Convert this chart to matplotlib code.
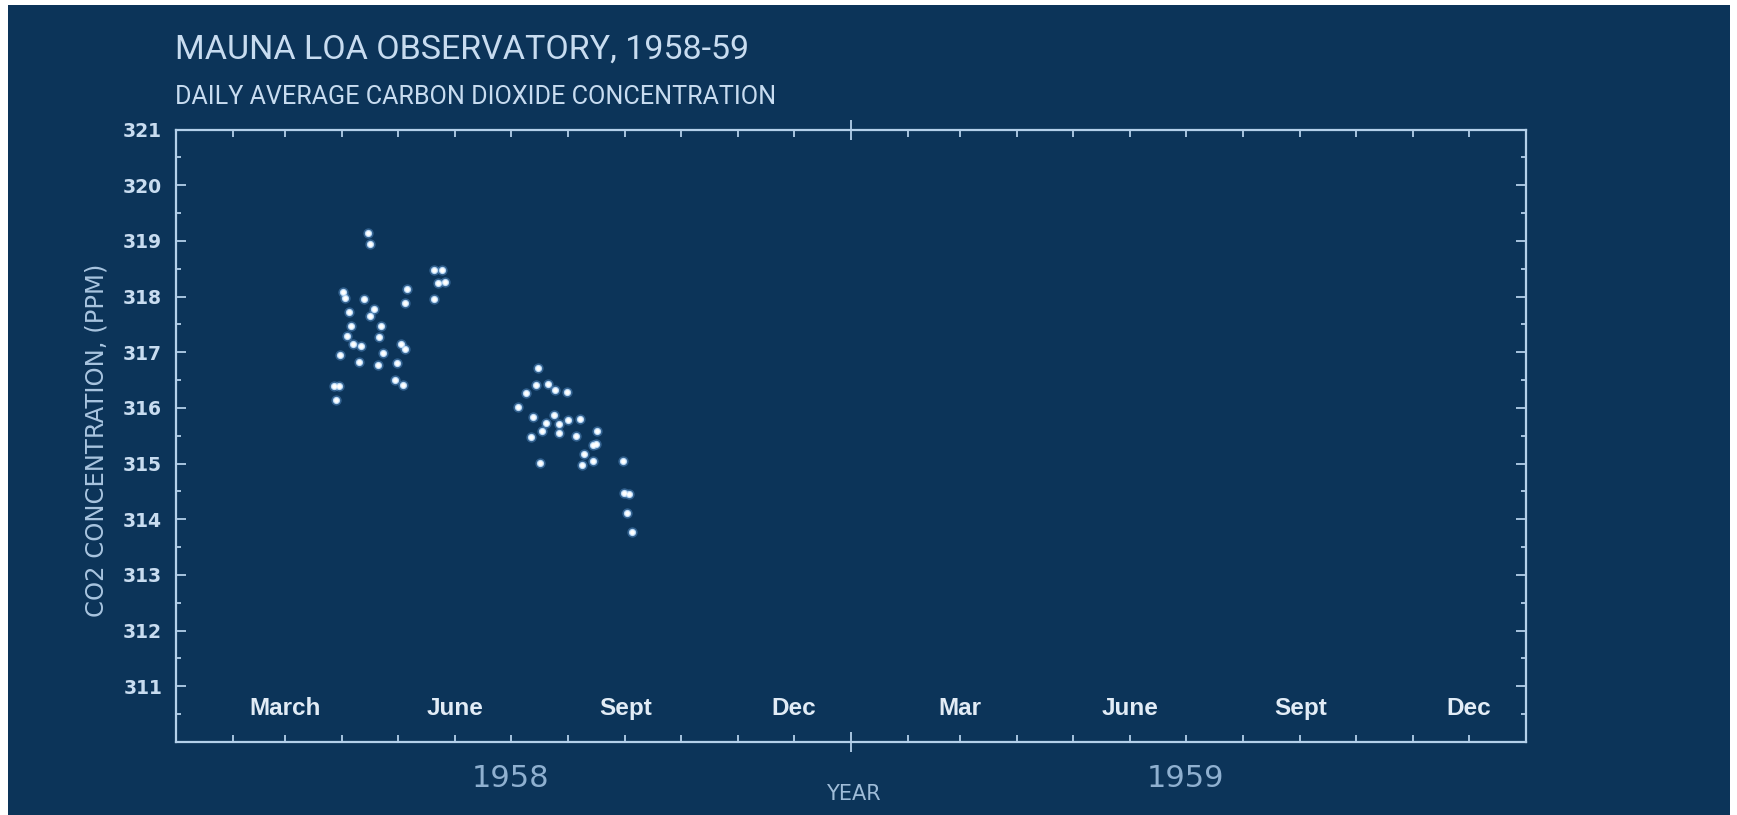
import numpy as np
import matplotlib
matplotlib.use("Agg")
import matplotlib.pyplot as plt
from matplotlib.patches import Rectangle
from matplotlib.transforms import blended_transform_factory

# ---------------- data (days since 1958-01-01, ppm) ----------------
DAYS = [104.0, 105.0, 139.7, 143.7, 141.6, 145.4, 139.3, 125.1, 124.0, 90.3,
        91.4, 101.8, 93.8, 105.0, 107.1, 94.7, 110.7, 92.6, 110.0, 95.8,
        100.3, 121.8, 123.6, 88.8, 112.1, 99.2, 119.5, 109.4, 118.6, 122.7,
        85.2, 87.9, 86.5,
        195.6, 194.7, 201.0, 205.1, 211.2, 189.3, 185.0, 193.1, 204.2, 218.6,
        200.1, 206.9, 211.7, 197.9, 207.1, 191.7, 216.4, 227.6, 225.7, 227.2,
        220.7, 225.7, 219.5, 197.0, 241.6, 242.3, 245.2, 243.7, 246.4]
CO2 = [319.14, 318.94, 318.48, 318.48, 318.25, 318.27, 317.95, 318.14, 317.89, 318.09,
       317.97, 317.95, 317.73, 317.66, 317.78, 317.47, 317.48, 317.30, 317.28, 317.15,
       317.11, 317.14, 317.06, 316.95, 316.98, 316.82, 316.81, 316.77, 316.51, 316.42,
       316.39, 316.40, 316.15,
       316.72, 316.42, 316.43, 316.33, 316.28, 316.26, 316.02, 315.84, 315.87, 315.81,
       315.73, 315.71, 315.79, 315.59, 315.55, 315.48, 315.50, 315.59, 315.33, 315.36,
       315.18, 315.05, 314.97, 315.01, 315.05, 314.48, 314.45, 314.12, 313.78]

MONTH_LABELS = ['March', 'June', 'Sept', 'Dec', 'Mar', 'June', 'Sept', 'Dec']
MONTH_LABEL_DATES = ['1958-03', '1958-06', '1958-09', '1958-12',
                     '1959-03', '1959-06', '1959-09', '1959-12']
YEAR_LABELS = ['1958', '1959']
YEAR_LABEL_DATES = ['1958-07', '1959-07']
Y_TICKS = list(range(311, 322))

TITLE = 'MAUNA LOA OBSERVATORY, 1958-59'
SUBTITLE = 'DAILY AVERAGE CARBON DIOXIDE CONCENTRATION'
YLABEL = 'CO2 CONCENTRATION, (PPM)'
XLABEL = 'YEAR'

# ---------------- style ----------------
BG = '#0c3459'
LINE = '#b4d0ea'
TXT = '#c8dcf0'
NARROW = ['Roboto', 'DejaVu Sans']

base = np.datetime64('1958-01-01')


def to_day(s):
    return float((np.datetime64(s, 'D') - base).astype(int))


months = np.arange('1958-01', '1960-02', dtype='datetime64[M]')
month_days = [(m.astype('datetime64[D]') - base).astype(int) for m in months]
x0, x1 = month_days[0], month_days[-1]
year_day = to_day('1959-01-01')

W, H = 1737, 815
fig = plt.figure(figsize=(W / 100, H / 100), dpi=100, facecolor=BG)
ax = fig.add_axes([176 / W, 1 - 742 / H, (1526 - 176) / W, (742 - 129.6) / H])
ax.set_facecolor(BG)

# white frame strips like the reference screenshot
fig.patches.append(Rectangle((0, 0), 8 / W, 1, transform=fig.transFigure,
                             facecolor='white', edgecolor='none', zorder=10))
fig.patches.append(Rectangle((0, 1 - 5 / H), 1, 5 / H, transform=fig.transFigure,
                             facecolor='white', edgecolor='none', zorder=10))
fig.patches.append(Rectangle((1 - 7 / W, 0), 7 / W, 1, transform=fig.transFigure,
                             facecolor='white', edgecolor='none', zorder=10))

# points with soft glow
ax.plot(DAYS, CO2, linestyle='none', marker='o', ms=7.5, color='#5f97cf',
        alpha=0.45, mec='none')
ax.plot(DAYS, CO2, linestyle='none', marker='o', ms=5.2, color='#bcdaf6',
        mec='none')
ax.plot(DAYS, CO2, linestyle='none', marker='o', ms=3.4, color='#ffffff',
        mec='none')

ax.set_xlim(x0, x1)
ax.set_ylim(310, 321)

for s in ax.spines.values():
    s.set_color(LINE)
    s.set_linewidth(1.6)

# x ticks: monthly minor, year major
ax.set_xticks([year_day])
ax.set_xticks(month_days[1:-1], minor=True)
ax.tick_params(axis='x', which='minor', direction='in', length=5, width=1.3,
               color=LINE, top=True, bottom=True, labelbottom=False)
ax.tick_params(axis='x', which='major', direction='inout', length=14, width=1.3,
               color=LINE, top=True, bottom=True, labelbottom=False)

# y ticks
ax.set_yticks(Y_TICKS)
ax.set_yticks(np.arange(310.5, 321, 1.0), minor=True)
ax.tick_params(axis='y', which='major', direction='in', length=7, width=1.3,
               color=LINE, left=True, right=True, labelleft=True,
               labelsize=13.5, labelcolor=TXT, pad=10)
ax.tick_params(axis='y', which='minor', direction='in', length=3.5, width=1.3,
               color=LINE, left=True, right=True)
for lab in ax.get_yticklabels():
    lab.set_family(['DejaVu Sans'])
    lab.set_fontweight('bold')

# month labels inside the plot
for lab, d in zip(MONTH_LABELS, MONTH_LABEL_DATES):
    ax.text(to_day(d + '-01'), 310.6, lab, ha='center', va='center',
            fontsize=17.5, fontweight='bold', color='#e2ecf6',
            family=['Liberation Sans', 'DejaVu Sans'])

trans = blended_transform_factory(ax.transData, ax.transAxes)
for lab, d in zip(YEAR_LABELS, YEAR_LABEL_DATES):
    ax.text(to_day(d + '-01'), -0.06, lab, ha='center', va='center',
            fontsize=22, color='#8fb0d0', transform=trans,
            family=['DejaVu Sans'])

fig.text(853 / W, 1 - 794 / H, XLABEL, ha='center', va='center', fontsize=15,
         color='#9fbcd8', family=['DejaVu Sans'])
fig.text(97 / W, 1 - 440 / H, YLABEL, ha='center', va='center', fontsize=17.5,
         rotation=90, color='#a9c5e0', family=['DejaVu Sans'])

fig.text(175 / W, 1 - 50 / H, TITLE, ha='left', va='center', fontsize=24.5,
         color=TXT, family=NARROW)
fig.text(175 / W, 1 - 97.5 / H, SUBTITLE, ha='left', va='center', fontsize=18.1,
         color=TXT, family=NARROW)

fig.savefig('out.png', dpi=100, facecolor=BG)
